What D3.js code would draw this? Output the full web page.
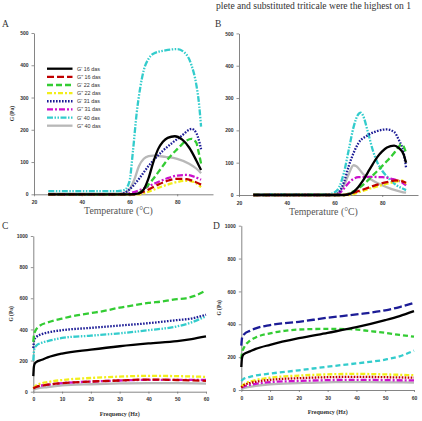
<!DOCTYPE html>
<html>
<head>
<meta charset="utf-8">
<script src="https://cdn.jsdelivr.net/npm/d3@7"></script>
<style>
  body { margin: 0; background: #fff; }
  svg { display: block; }
</style>
</head>
<body>
<svg id="chart" width="422" height="421"></svg>
<script>
/*
Series labels and data.
Temperature sweeps (A, B): [temperature °C, G Pa]
Frequency sweeps (C, D): [frequency Hz, G Pa]
 */
var seriesLabels = ["G' 16 das", "G\" 16 das", "G' 22 das", "G\" 22 das",
                    "G' 31 das", "G\" 31 das", "G' 40 das", "G\" 40 das"];
var tempTicks = [20, 40, 60, 80];
var tempGTicks = [0, 100, 200, 300, 400, 500];
var freqTicks = [0, 10, 20, 30, 40, 50, 60];
var freqGTicks = [0, 200, 400, 600, 800, 1000];

// panel A
var a16p  = [[26,0],[60,0],[64,3],[66,15],[68,50],[70,100],[72,140],[74,163],[76,175],[79,180],[82,170],[85,145],[88,105],[90,75]];
var a16pp = [[26,0],[62,0],[64,3],[68,15],[72,30],[76,42],[80,48],[84,47],[87,40],[90,30]];
var a22p  = [[26,0],[62,0],[64,5],[66,15],[68,30],[70,48],[72,68],[74,88],[76,108],[78,125],[80,140],[82,155],[84,167],[86,172],[88,160],[89,130],[90,95]];
var a22pp = [[26,0],[64,0],[68,8],[72,20],[76,30],[80,38],[84,42],[87,38],[90,22]];
var a31p  = [[26,0],[56,0],[58,5],[60,15],[62,30],[64,48],[66,68],[68,88],[70,105],[74,135],[78,160],[82,182],[85,200],[86,203],[88,190],[89,170],[90,140]];
var a31pp = [[26,0],[58,0],[60,3],[64,12],[68,25],[72,38],[76,50],[80,58],[84,60],[87,55],[90,45]];
var a40p  = [[26,10],[40,10],[55,10],[58,14],[60,40],[61.5,137],[63,250],[64.5,330],[66,385],[68,420],[70,436],[75,446],[80,450],[83,440],[86,400],[88,340],[89,290],[90,210]];
var a40pp = [[26,2],[55,2],[58,5],[60,15],[62,45],[64,88],[66,110],[68,118],[70,120],[75,116],[80,110],[85,95],[88,80],[90,65]];

// panel B
var b16p  = [[26,0],[64,0],[67,5],[70,25],[72,45],[74,70],[76,95],[78,118],[80,135],[82,147],[85,153],[87,145],[89,125],[90,100]];
var b16pp = [[26,0],[64,0],[66,3],[70,12],[74,22],[78,32],[82,40],[86,45],[88,43],[90,38]];
var b22p  = [[26,0],[64,0],[66,5],[70,20],[74,45],[78,75],[82,105],[85,130],[87,150],[88,157],[89,150],[90,130]];
var b22pp = [[26,0],[66,0],[70,8],[74,18],[78,27],[82,35],[86,42],[88,45],[90,35]];
var b31p  = [[26,0],[60,0],[62,10],[64,40],[66,90],[68,130],[70,160],[74,185],[78,198],[82,203],[85,195],[87,170],[89,130],[90,85]];
var b31pp = [[26,0],[60,0],[62,5],[64,20],[66,38],[68,50],[70,55],[75,56],[80,55],[84,50],[88,40],[90,30]];
var b40p  = [[26,3],[58,3],[60,8],[62,25],[64,70],[66,140],[68,210],[70,250],[71,255],[72,245],[74,195],[76,140],[78,100],[80,75],[83,50],[86,30],[88,22],[90,15]];
var b40pp = [[26,2],[60,2],[62,8],[64,30],[66,65],[68,92],[69,90],[72,65],[76,45],[80,30],[84,18],[88,10],[90,7]];

// panel C
var c16p  = [[0,100],[0.2,160],[0.5,180],[1,190],[3,205],[5,220],[10,245],[20,270],[30,292],[40,310],[50,325],[55,338],[60,355]];
var c16pp = [[0,20],[1,30],[5,45],[10,55],[20,65],[30,72],[40,78],[50,75],[60,70]];
var c22p  = [[0,320],[0.3,370],[1,400],[2,420],[5,445],[10,470],[15,490],[20,505],[25,520],[30,540],[35,555],[40,570],[45,580],[50,595],[53,600],[56,615],[60,650]];
var c22pp = [[0,20],[1,40],[3,55],[5,62],[10,75],[20,88],[30,97],[40,102],[50,100],[60,95]];
var c31p  = [[0,280],[0.3,330],[1,350],[3,370],[5,380],[10,395],[20,410],[30,425],[40,440],[50,460],[55,470],[60,495]];
var c31pp = [[0,25],[1,33],[5,45],[10,55],[20,65],[30,72],[40,76],[50,76],[60,75]];
var c40p  = [[0,200],[0.3,270],[1,295],[3,315],[5,325],[10,345],[20,360],[30,375],[40,395],[50,420],[55,445],[60,485]];
var c40pp = [[0,10],[1,20],[5,30],[10,40],[20,48],[30,53],[40,55],[50,55],[60,52]];

// panel D
var d16p  = [[0,140],[0.2,190],[0.5,210],[1,220],[3,235],[5,250],[10,275],[20,315],[30,348],[40,382],[50,425],[55,450],[60,480]];
var d16pp = [[0,15],[1,30],[5,50],[10,62],[20,72],[30,78],[40,80],[50,78],[60,75]];
var d22p  = [[0,190],[0.3,230],[1,260],[3,300],[5,320],[10,345],[15,360],[20,368],[30,372],[38,370],[45,358],[50,348],[55,335],[60,325]];
var d22pp = [[0,20],[1,35],[5,60],[10,75],[20,88],[30,95],[40,98],[50,95],[60,90]];
var d31p  = [[0,270],[0.3,320],[1,340],[3,360],[5,375],[10,395],[20,415],[30,440],[40,460],[50,485],[55,505],[60,530]];
var d31pp = [[0,15],[1,22],[5,38],[10,48],[20,55],[30,60],[40,62],[50,60],[60,58]];
var d40p  = [[0,55],[1,70],[3,80],[5,88],[10,100],[20,120],[30,142],[40,162],[50,185],[55,205],[60,240]];
var d40pp = [[0,5],[1,12],[5,25],[10,35],[20,42],[30,47],[40,48],[50,47],[60,45]];

/*
Line styles, one per series (same order as the labels)
 */
var colors = ["#000000", "#c00000", "#33cc33", "#f2ee1a", "#1c1c96", "#cc11cc", "#33cccc", "#b8b8b8"];
var dashes = [null, "7,3", "6,3", "5,2,2,2", "1.6,1.4", "6,2,2,2", "6,1.5,1.5,1.5,1.5,1.5", null];
var dashesD = [null, "1.6,1.4", "5,3", "5,2,2,2", "8,3", "6,2,2,2", "5,3", null];

var svg = d3.select("#chart");

// running text of the page above the figure
svg.append("text")
    .attr("x", 216).attr("y", 9)
    .attr("font-family", "Liberation Serif, serif")
    .attr("font-size", 9.6)
    .attr("fill", "#333")
    .text("plete and substituted triticale were the highest on 1");

var panels = [
    {letter: "A", lx: 2, ly: 27, data: [a16p, a16pp, a22p, a22pp, a31p, a31pp, a40p, a40pp],
     xDomain: [20, 95], xRange: [34, 213], yDomain: [0, 500], yRange: [194.3, 33],
     xTicks: tempTicks, yTicks: tempGTicks, kind: "temp", yLabel: true, legend: true, dash: dashes},
    {letter: "B", lx: 215, ly: 27, data: [b16p, b16pp, b22p, b22pp, b31p, b31pp, b40p, b40pp],
     xDomain: [20, 95], xRange: [239, 418], yDomain: [0, 500], yRange: [195, 33.4],
     xTicks: tempTicks, yTicks: tempGTicks, kind: "temp", yLabel: false, legend: false, dash: dashes},
    {letter: "C", lx: 2, ly: 229, data: [c16p, c16pp, c22p, c22pp, c31p, c31pp, c40p, c40pp],
     xDomain: [0, 60], xRange: [33.3, 206], yDomain: [0, 1000], yRange: [391.7, 236],
     xTicks: freqTicks, yTicks: freqGTicks, kind: "freq", yLabel: true, legend: false, dash: dashes},
    {letter: "D", lx: 213, ly: 229, data: [d16p, d16pp, d22p, d22pp, d31p, d31pp, d40p, d40pp],
     xDomain: [0, 60], xRange: [241.3, 414], yDomain: [0, 1000], yRange: [390, 225.7],
     xTicks: freqTicks, yTicks: freqGTicks, kind: "freq", yLabel: true, legend: false, dash: dashesD}
];

panels.forEach(function(p) {
    var x = d3.scaleLinear().domain(p.xDomain).range(p.xRange);
    var y = d3.scaleLinear().domain(p.yDomain).range(p.yRange);
    var g = svg.append("g");

    g.append("text")
        .attr("x", p.lx).attr("y", p.ly)
        .attr("font-family", "Liberation Serif, serif")
        .attr("font-size", 9.5)
        .attr("fill", "#333")
        .text(p.letter);

    // axes
    var yAxis = g.append("g")
        .attr("transform", "translate(" + p.xRange[0] + ",0)")
        .call(d3.axisLeft(y).tickValues(p.yTicks).tickFormat(d3.format("d"))
            .tickSize(2.5).tickSizeOuter(0).tickPadding(3));
    var xAxis = g.append("g")
        .attr("transform", "translate(0," + p.yRange[0] + ")")
        .call(d3.axisBottom(x).tickValues(p.xTicks).tickFormat(d3.format("d"))
            .tickSize(2).tickSizeOuter(0).tickPadding(4));
    [xAxis, yAxis].forEach(function(a) {
        a.select(".domain").attr("stroke", "#666").attr("stroke-width", 0.8);
        a.selectAll(".tick line").attr("stroke", "#666").attr("stroke-width", 0.7);
        a.selectAll(".tick text")
            .attr("font-family", "Liberation Sans, Arial, sans-serif")
            .attr("font-size", 5)
            .attr("font-weight", "bold")
            .attr("fill", "#333");
    });

    // axis titles
    var xMid = (p.xRange[0] + p.xRange[1]) / 2;
    if (p.kind == "temp") {
        g.append("text")
            .attr("x", xMid - 5).attr("y", p.yRange[0] + 20)
            .attr("text-anchor", "middle")
            .attr("font-family", "Liberation Serif, serif")
            .attr("font-size", 9.8)
            .attr("fill", "#555")
            .text("Temperature (\u00b0C)");
    } else {
        g.append("text")
            .attr("x", xMid).attr("y", p.yRange[0] + 24)
            .attr("text-anchor", "middle")
            .attr("font-family", "Liberation Serif, serif")
            .attr("font-size", 6)
            .attr("font-weight", "bold")
            .attr("fill", "#333")
            .text("Frequency (Hz)");
    }
    if (p.yLabel) {
        var yMid = (p.yRange[0] + p.yRange[1]) / 2;
        g.append("text")
            .attr("transform", "translate(" + (p.xRange[0] - 20) + "," + yMid + ") rotate(-90)")
            .attr("text-anchor", "middle")
            .attr("font-family", "Liberation Serif, serif")
            .attr("font-size", 5.5)
            .attr("font-weight", "bold")
            .attr("fill", "#333")
            .text("G (Pa)");
    }

    // curves
    var line = d3.line()
        .x(function(d) { return x(d[0]); })
        .y(function(d) { return y(d[1]); })
        .curve(d3.curveMonotoneX);

    // draw in reverse so that black / red end up on top like in the figure
    var order = [7, 6, 5, 4, 3, 2, 1, 0];
    order.forEach(function(i) {
        g.append("path")
            .datum(p.data[i])
            .attr("d", line)
            .attr("fill", "none")
            .attr("stroke", colors[i])
            .attr("stroke-width", 2.3)
            .attr("stroke-dasharray", p.dash[i]);
    });

    // legend (panel A only)
    if (p.legend) {
        var leg = g.append("g");
        seriesLabels.forEach(function(lab, i) {
            var ly = 68.7 + i * 8.14;
            leg.append("line")
                .attr("x1", 47).attr("x2", 72.5)
                .attr("y1", ly).attr("y2", ly)
                .attr("stroke", colors[i])
                .attr("stroke-width", 2.3)
                .attr("stroke-dasharray", dashes[i]);
            leg.append("text")
                .attr("x", 77).attr("y", ly + 2)
                .attr("font-family", "Liberation Sans, Arial, sans-serif")
                .attr("font-size", 5.4)
                .attr("fill", "#333")
                .text(lab);
        });
    }
});
</script>
</body>
</html>
